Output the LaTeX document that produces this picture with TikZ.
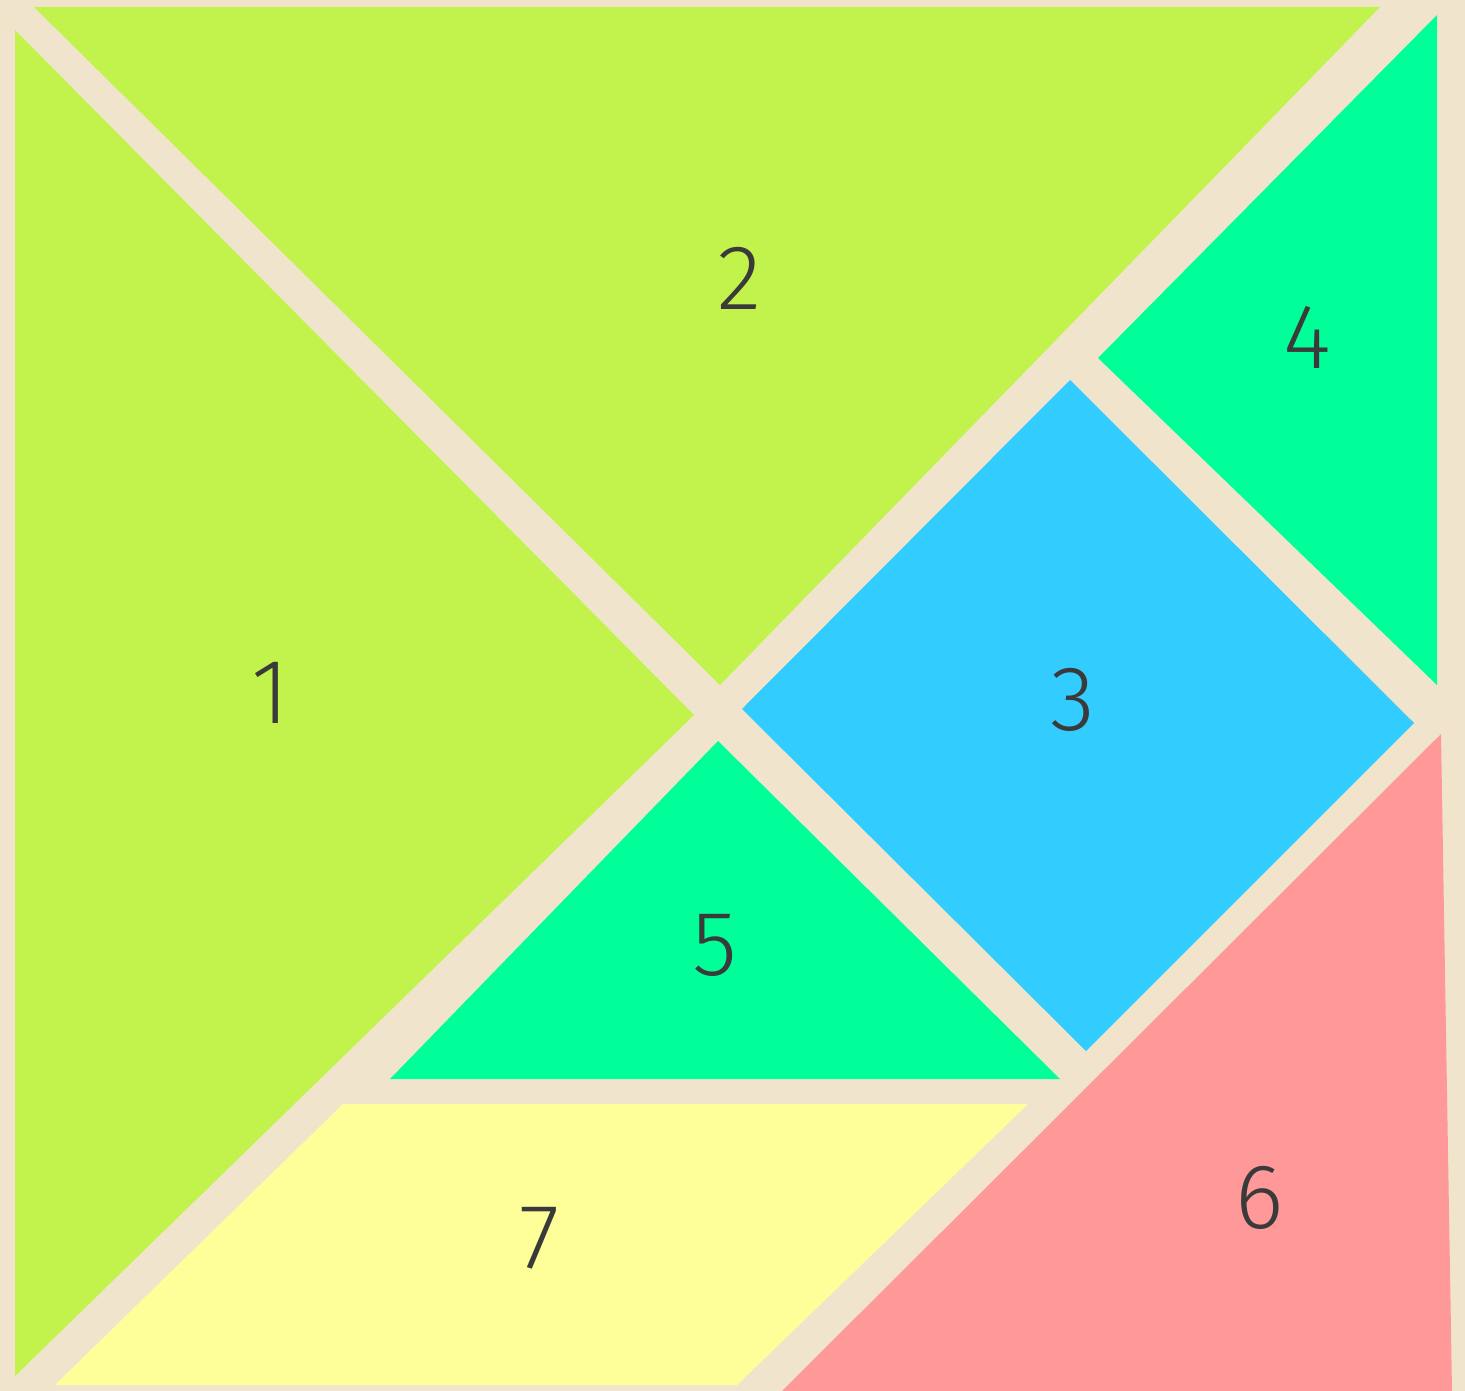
\documentclass[tikz,border=0pt]{standalone}
\usepackage{fontspec}
\setmainfont{Fira Sans}
\definecolor{bgc}{HTML}{F0E5CC}
\definecolor{lime}{HTML}{C2F24C}
\definecolor{spring}{HTML}{00FF99}
\definecolor{sky}{HTML}{33CCFF}
\definecolor{pinkc}{HTML}{FF9999}
\definecolor{yell}{HTML}{FFFF99}
\definecolor{ink}{HTML}{3A3A3A}
\tikzset{
  num/.style={text=ink, font=\fontsize{92}{92}\selectfont\fontspec{Fira Sans Light}, inner sep=0pt}
}
\begin{document}
\begin{tikzpicture}[x=1pt,y=-1pt]
\useasboundingbox (0,0) rectangle (1465,1391);
\fill[bgc] (0,0) rectangle (1465,1391);
% piece 1
\fill[lime] (15,30) -- (694,715) -- (15,1376) -- cycle;
% piece 2
\fill[lime] (34,7) -- (1380,7) -- (720,685) -- cycle;
% piece 4
\fill[spring] (1437,15) -- (1437,685) -- (1098,358) -- cycle;
% piece 3
\fill[sky] (1070,380) -- (1414,723) -- (1086,1051) -- (742,709) -- cycle;
% piece 5
\fill[spring] (718,741) -- (1060,1079) -- (390,1079) -- cycle;
% piece 7
\fill[yell] (343,1104) -- (1028,1104) -- (737,1385) -- (55,1385) -- cycle;
% piece 6
\fill[pinkc] (1441,734) -- (1452,1391) -- (782,1391) -- cycle;
% labels
\node[num] (n1) at (270,693) {1};
\node[num] (n2) at (740,278) {2};
\node[num] (n3) at (1073,700) {3};
\node[num] (n4) at (1307,337) {4};
\node[num] (n5) at (715,945) {5};
\node[num] (n6) at (1260,1198) {6};
\node[num] (n7) at (540,1238) {7};
\end{tikzpicture}
\end{document}
